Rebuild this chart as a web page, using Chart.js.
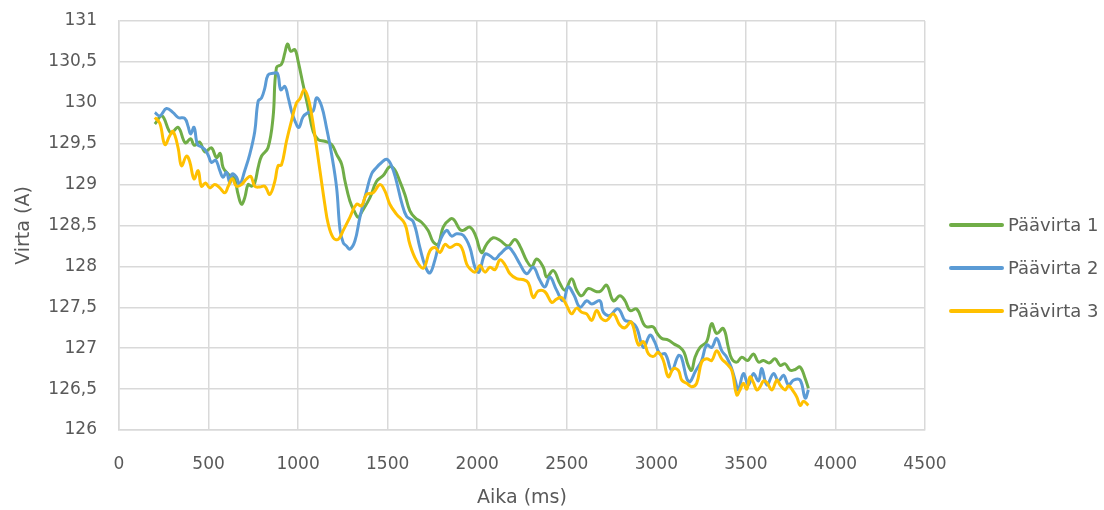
<!DOCTYPE html>
<html>
<head>
<meta charset="utf-8">
<title>Päävirta</title>
<script src="https://cdn.jsdelivr.net/npm/chart.js@4/dist/chart.umd.min.js"></script>
<style>
  html, body { margin: 0; padding: 0; background: #ffffff; }
  #wrap { width: 1104px; height: 510px; }
</style>
</head>
<body>
<div id="wrap"><canvas id="chart" width="1104" height="510"></canvas></div>
<script>
  'use strict';

  /* ---- data (time in ms, current in A) ---- */
  var seriesNames = ['Päävirta 1', 'Päävirta 2', 'Päävirta 3'];
  var seriesColors = ['#70AD47', '#5B9BD5', '#FFC000'];

  var timeP1 = [200, 240, 290, 330, 370, 400, 420, 450, 480, 516, 544, 565, 581, 609, 630, 646, 665, 684, 702, 721,
    740, 758, 777, 796, 832, 860, 879, 907, 926, 941, 959, 982, 1000, 1028, 1056, 1084, 1112, 1149, 1187, 1215,
    1243, 1261, 1289, 1317, 1335, 1354, 1401, 1438, 1475, 1512, 1540, 1568, 1596, 1624, 1655, 1689, 1726, 1754, 1782, 1810,
    1850, 1870, 1903, 1922, 1959, 1990, 2024, 2052, 2089, 2126, 2173, 2210, 2238, 2276, 2304, 2332, 2369, 2388, 2425, 2462,
    2490, 2527, 2555, 2583, 2620, 2667, 2690, 2723, 2760, 2797, 2825, 2853, 2890, 2928, 2946, 2983, 3005, 3030, 3067, 3100,
    3132, 3155, 3178, 3197, 3216, 3244, 3281, 3309, 3337, 3374, 3402, 3421, 3449, 3477, 3510, 3542, 3570, 3598, 3630, 3663,
    3691, 3719, 3747, 3775, 3803, 3831, 3849];
  var currentP1 = [129.74, 129.84, 129.63, 129.70, 129.51, 129.56, 129.48, 129.52, 129.40, 129.45, 129.33, 129.38, 129.21, 129.13, 129.10, 129.07, 128.88, 128.76, 128.84, 129.00,
    128.98, 129.02, 129.21, 129.35, 129.45, 129.82, 130.43, 130.47, 130.61, 130.72, 130.63, 130.65, 130.51, 130.22, 129.94, 129.65, 129.55, 129.53, 129.49, 129.37,
    129.25, 129.05, 128.80, 128.66, 128.60, 128.66, 128.84, 129.04, 129.11, 129.22, 129.18, 129.04, 128.88, 128.68, 128.59, 128.54, 128.44, 128.30, 128.27, 128.48,
    128.58, 128.57, 128.45, 128.44, 128.48, 128.38, 128.17, 128.27, 128.35, 128.32, 128.25, 128.33, 128.25, 128.07, 128.00, 128.09, 127.99, 127.87, 127.95, 127.79,
    127.71, 127.85, 127.71, 127.64, 127.73, 127.69, 127.70, 127.77, 127.58, 127.64, 127.58, 127.46, 127.48, 127.30, 127.26, 127.26, 127.18, 127.12, 127.10, 127.05,
    127.01, 126.95, 126.79, 126.73, 126.89, 127.01, 127.08, 127.30, 127.18, 127.24, 127.01, 126.87, 126.83, 126.89, 126.85, 126.93, 126.83, 126.85, 126.82, 126.87,
    126.79, 126.81, 126.73, 126.74, 126.77, 126.63, 126.51];

  var timeP2 = [200, 228, 265, 302, 330, 367, 386, 400, 419, 438, 460, 479, 500, 516, 540, 563, 581, 600, 619, 632,
    656, 674, 702, 730, 758, 777, 796, 814, 832, 860, 885, 903, 926, 945, 963, 982, 1004, 1028, 1056, 1084,
    1103, 1131, 1159, 1187, 1215, 1234, 1252, 1270, 1289, 1317, 1345, 1382, 1410, 1438, 1466, 1494, 1522, 1549, 1578, 1606,
    1642, 1680, 1710, 1736, 1764, 1792, 1829, 1857, 1885, 1922, 1959, 1987, 2010, 2043, 2071, 2099, 2127, 2173, 2201, 2238,
    2276, 2313, 2350, 2378, 2406, 2443, 2480, 2508, 2540, 2574, 2611, 2640, 2685, 2704, 2740, 2779, 2797, 2825, 2860, 2890,
    2928, 2965, 2990, 3020, 3050, 3086, 3123, 3140, 3170, 3188, 3216, 3253, 3281, 3309, 3337, 3365, 3393, 3421, 3440, 3458,
    3486, 3514, 3542, 3570, 3589, 3617, 3654, 3682, 3710, 3738, 3766, 3803, 3831, 3849];
  var currentP2 = [129.88, 129.84, 129.93, 129.88, 129.82, 129.81, 129.71, 129.62, 129.70, 129.49, 129.46, 129.43, 129.35, 129.27, 129.30, 129.17, 129.09, 129.15, 129.02, 129.13,
    129.09, 129.00, 129.17, 129.37, 129.65, 130.02, 130.06, 130.18, 130.34, 130.36, 130.36, 130.16, 130.20, 130.06, 129.90, 129.78, 129.70, 129.83, 129.88, 129.90,
    130.06, 129.96, 129.69, 129.37, 128.96, 128.45, 128.29, 128.25, 128.21, 128.31, 128.60, 128.92, 129.13, 129.21, 129.27, 129.31, 129.23, 129.04, 128.78, 128.61,
    128.55, 128.23, 128.00, 127.92, 128.08, 128.31, 128.44, 128.37, 128.40, 128.38, 128.23, 127.99, 127.93, 128.15, 128.13, 128.09, 128.15, 128.23, 128.17, 128.03,
    127.91, 127.99, 127.83, 127.75, 127.87, 127.71, 127.58, 127.75, 127.65, 127.50, 127.58, 127.54, 127.58, 127.44, 127.40, 127.48, 127.46, 127.34, 127.32, 127.25,
    127.01, 127.16, 127.08, 126.93, 126.93, 126.73, 126.91, 126.89, 126.63, 126.59, 126.71, 126.85, 127.04, 127.01, 127.12, 126.97, 126.89, 126.75, 126.61, 126.49,
    126.69, 126.55, 126.69, 126.60, 126.75, 126.55, 126.69, 126.60, 126.67, 126.55, 126.61, 126.61, 126.39, 126.49];

  var timeP3 = [200, 228, 256, 284, 302, 330, 349, 377, 395, 419, 442, 460, 483, 507, 535, 563, 591, 610, 632, 656,
    684, 712, 736, 758, 786, 814, 842, 870, 888, 907, 935, 963, 991, 1010, 1034, 1056, 1075, 1093, 1122, 1149,
    1168, 1196, 1224, 1252, 1289, 1326, 1354, 1382, 1419, 1457, 1485, 1512, 1549, 1596, 1624, 1661, 1700, 1736, 1764, 1792,
    1820, 1848, 1885, 1913, 1941, 1960, 1988, 2015, 2043, 2071, 2099, 2127, 2155, 2183, 2220, 2255, 2285, 2313, 2341, 2378,
    2416, 2443, 2471, 2500, 2527, 2555, 2583, 2611, 2639, 2667, 2695, 2723, 2760, 2797, 2825, 2860, 2900, 2928, 2956, 2985,
    3011, 3039, 3067, 3095, 3123, 3142, 3170, 3197, 3225, 3253, 3281, 3309, 3337, 3365, 3393, 3421, 3449, 3467, 3486, 3505,
    3523, 3542, 3561, 3580, 3598, 3617, 3645, 3673, 3691, 3719, 3738, 3766, 3785, 3803, 3822, 3849];
  var currentP3 = [129.82, 129.75, 129.49, 129.60, 129.65, 129.45, 129.23, 129.35, 129.28, 129.07, 129.17, 128.98, 129.02, 128.96, 129.00, 128.96, 128.90, 128.98, 129.07, 128.98,
    129.00, 129.07, 129.10, 128.98, 128.97, 128.98, 128.88, 129.04, 129.23, 129.24, 129.53, 129.78, 130.00, 130.05, 130.16, 130.06, 129.86, 129.61, 129.17, 128.76,
    128.52, 128.35, 128.33, 128.44, 128.60, 128.76, 128.74, 128.88, 128.90, 129.00, 128.92, 128.76, 128.64, 128.52, 128.27, 128.07, 127.98, 128.19, 128.23, 128.17,
    128.27, 128.23, 128.27, 128.23, 128.03, 127.97, 127.93, 128.01, 127.93, 127.99, 127.96, 128.08, 128.02, 127.91, 127.85, 127.84, 127.80, 127.62, 127.70, 127.69,
    127.56, 127.60, 127.62, 127.52, 127.42, 127.49, 127.44, 127.42, 127.34, 127.46, 127.36, 127.34, 127.42, 127.28, 127.25, 127.32, 127.04, 127.08, 126.93, 126.90,
    126.95, 126.85, 126.65, 126.75, 126.73, 126.61, 126.57, 126.53, 126.57, 126.83, 126.87, 126.85, 126.97, 126.87, 126.81, 126.73, 126.43, 126.49, 126.57, 126.50,
    126.65, 126.58, 126.49, 126.53, 126.60, 126.58, 126.49, 126.61, 126.55, 126.49, 126.54, 126.47, 126.40, 126.30, 126.35, 126.30];

  var xTitle = 'Aika (ms)';
  var yTitle = 'Virta (A)';

  /* ---- helpers ---- */
  function toPoints(xs, ys) {
    return xs.map(function (x, i) { return { x: x, y: ys[i] }; });
  }

  var FONT = "'DejaVu Sans', sans-serif";
  var TEXT = '#595959';
  var GRID = '#D9D9D9';

  // Excel style legend at the right, drawn after the chart
  var sideLegend = {
    id: 'sideLegend',
    afterDraw: function (chart) {
      var ctx = chart.ctx;
      var x0 = 951, x1 = 1002, top = 225, step = 43;
      ctx.save();
      ctx.font = '18px ' + FONT;
      ctx.textBaseline = 'middle';
      ctx.textAlign = 'left';
      chart.data.datasets.forEach(function (ds, i) {
        var y = top + i * step;
        ctx.strokeStyle = ds.borderColor;
        ctx.lineWidth = 4;
        ctx.lineCap = 'round';
        ctx.beginPath();
        ctx.moveTo(x0, y);
        ctx.lineTo(x1, y);
        ctx.stroke();
        ctx.fillStyle = TEXT;
        ctx.fillText(ds.label, x1 + 6, y + 1);
      });
      ctx.restore();
    }
  };

  var series = [currentP1, currentP2, currentP3];
  var times = [timeP1, timeP2, timeP3];
  var datasets = series.map(function (ys, i) {
    return {
      label: seriesNames[i],
      data: toPoints(times[i], ys),
      borderColor: seriesColors[i],
      backgroundColor: seriesColors[i],
      borderWidth: 3,
      pointRadius: 0,
      showLine: true,
      tension: 0.4,
      order: 3 - i
    };
  });

  new Chart(document.getElementById('chart'), {
    type: 'scatter',
    data: { datasets: datasets },
    plugins: [sideLegend],
    options: {
      responsive: false,
      animation: false,
      events: [],
      layout: { padding: { top: 21, right: 179, bottom: 0, left: 0 } },
      plugins: {
        legend: { display: false },
        tooltip: { enabled: false }
      },
      scales: {
        x: {
          type: 'linear',
          min: 0,
          max: 4500,
          afterFit: function (scale) { scale.height = 80; },
          ticks: {
            stepSize: 500,
            padding: 24,
            color: TEXT,
            font: { family: FONT, size: 17 },
            callback: function (v) { return String(v); }
          },
          grid: { color: GRID, lineWidth: 1.5, drawTicks: false },
          border: { color: GRID, width: 1.5 },
          title: {
            display: true,
            text: xTitle,
            color: TEXT,
            font: { family: FONT, size: 19 },
            padding: { top: 0, bottom: 1 }
          }
        },
        y: {
          min: 126,
          max: 131,
          afterFit: function (scale) {
            scale.width = 119;
            scale.paddingTop = 0;
            scale.paddingBottom = 0;
          },
          ticks: {
            stepSize: 0.5,
            padding: 22,
            color: TEXT,
            font: { family: FONT, size: 17 },
            callback: function (v) { return String(v).replace('.', ','); }
          },
          grid: { color: GRID, lineWidth: 1.5, drawTicks: false },
          border: { color: GRID, width: 1.5 },
          title: {
            display: true,
            text: yTitle,
            color: TEXT,
            font: { family: FONT, size: 19 },
            padding: { top: 13, bottom: 0 }
          }
        }
      }
    }
  });
</script>
</body>
</html>
